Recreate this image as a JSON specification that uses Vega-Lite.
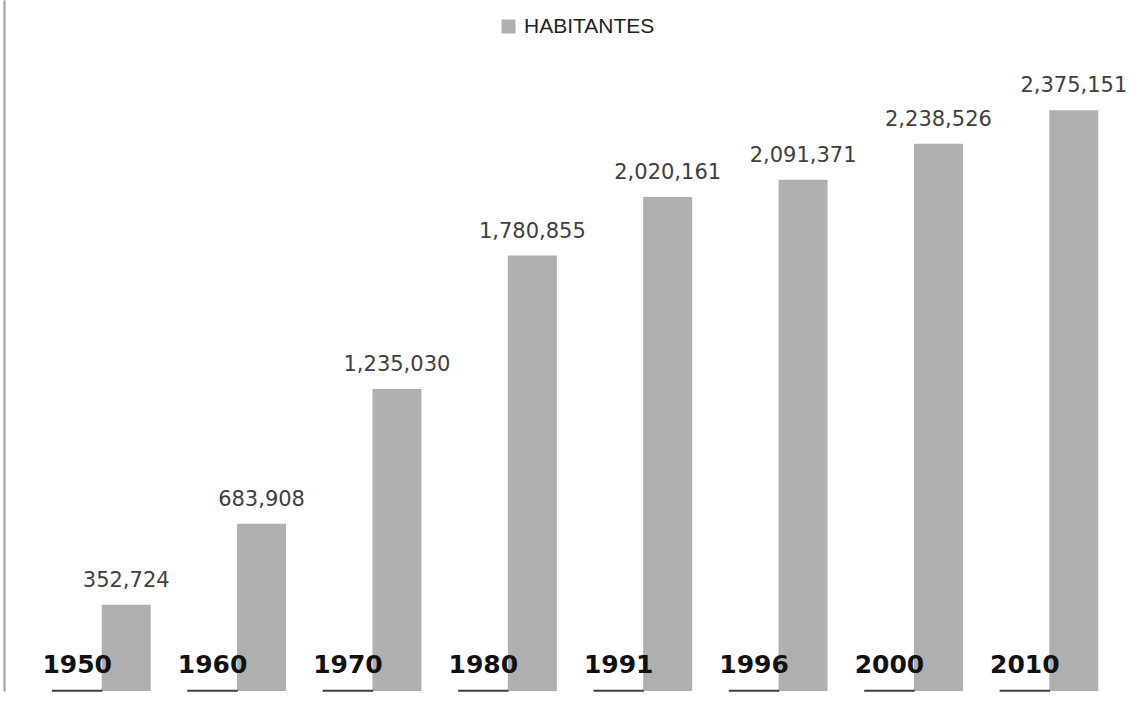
{
  "$schema": "https://vega.github.io/schema/vega-lite/v6.json",
  "width": 1083,
  "height": 691,
  "autosize": {"type": "none"},
  "padding": {"left": 34, "top": 0, "right": 17, "bottom": 24},
  "background": "white",
  "config": {"view": {"stroke": null}},
  "data": {
    "values": [
      {"anio": "1950", "serie": "AÑO", "valor": 1950},
      {"anio": "1950", "serie": "HABITANTES", "valor": 352724},
      {"anio": "1960", "serie": "AÑO", "valor": 1960},
      {"anio": "1960", "serie": "HABITANTES", "valor": 683908},
      {"anio": "1970", "serie": "AÑO", "valor": 1970},
      {"anio": "1970", "serie": "HABITANTES", "valor": 1235030},
      {"anio": "1980", "serie": "AÑO", "valor": 1980},
      {"anio": "1980", "serie": "HABITANTES", "valor": 1780855},
      {"anio": "1991", "serie": "AÑO", "valor": 1991},
      {"anio": "1991", "serie": "HABITANTES", "valor": 2020161},
      {"anio": "1996", "serie": "AÑO", "valor": 1996},
      {"anio": "1996", "serie": "HABITANTES", "valor": 2091371},
      {"anio": "2000", "serie": "AÑO", "valor": 2000},
      {"anio": "2000", "serie": "HABITANTES", "valor": 2238526},
      {"anio": "2010", "serie": "AÑO", "valor": 2010},
      {"anio": "2010", "serie": "HABITANTES", "valor": 2375151}
    ]
  },
  "encoding": {
    "x": {"field": "anio", "type": "nominal", "sort": null, "axis": null,
          "scale": {"paddingInner": 0.276, "paddingOuter": 0.138}},
    "xOffset": {"field": "serie", "type": "nominal", "scale": {"domain": ["AÑO", "HABITANTES"]}},
    "y": {"field": "valor", "type": "quantitative",
          "scale": {"domain": [0, 2826000], "nice": false, "zero": true},
          "axis": {"title": null, "labels": false, "ticks": false, "grid": false,
                   "domain": true, "domainColor": "#a0a0a0", "domainWidth": 2, "offset": 30}}
  },
  "layer": [
    {
      "transform": [{"filter": "datum.serie == 'HABITANTES'"}],
      "mark": {"type": "bar"},
      "encoding": {
        "color": {"field": "serie", "type": "nominal",
                  "scale": {"domain": ["HABITANTES"], "range": ["#afafaf"]},
                  "legend": {"title": null, "orient": "none", "legendX": 464, "legendY": 16,
                             "symbolType": "square", "symbolSize": 196, "symbolStrokeWidth": 0,
                             "labelFont": "Liberation Sans", "labelFontSize": 21, "labelColor": "#222222",
                             "labelOffset": 5, "padding": 0}}
      }
    },
    {
      "transform": [{"filter": "datum.serie == 'AÑO'"}],
      "mark": {"type": "bar", "color": "#3f3f3f", "stroke": "#3f3f3f", "strokeWidth": 1.5}
    },
    {
      "transform": [{"filter": "datum.serie == 'HABITANTES'"}],
      "mark": {"type": "text", "baseline": "alphabetic", "dy": -18, "font": "DejaVu Sans", "fontSize": 21, "color": "#404040"},
      "encoding": {"text": {"field": "valor", "type": "quantitative", "format": ",d"}}
    },
    {
      "transform": [{"filter": "datum.serie == 'AÑO'"}],
      "mark": {"type": "text", "baseline": "alphabetic", "dy": -18, "font": "DejaVu Sans", "fontWeight": "bold", "fontSize": 25, "color": "#111111"},
      "encoding": {"text": {"field": "valor", "type": "quantitative", "format": "d"}}
    }
  ]
}
